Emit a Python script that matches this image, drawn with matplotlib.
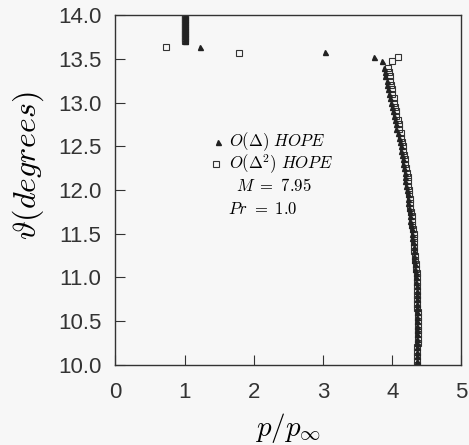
import matplotlib
matplotlib.use("Agg")
import matplotlib.pyplot as plt

# theta (degrees) along the main curve
theta = [13.40, 13.35, 13.30, 13.25, 13.20, 13.15, 13.10, 13.05, 13.00,
         12.95, 12.90, 12.85, 12.80, 12.75, 12.70, 12.65, 12.60, 12.55, 12.50,
         12.45, 12.40, 12.35, 12.30, 12.25, 12.20, 12.15, 12.10, 12.05, 12.00,
         11.95, 11.90, 11.85, 11.80, 11.75, 11.70, 11.65, 11.60, 11.55, 11.50,
         11.45, 11.40, 11.35, 11.30, 11.25, 11.20, 11.15, 11.10, 11.05, 11.00,
         10.95, 10.90, 10.85, 10.80, 10.75, 10.70, 10.65, 10.60, 10.55, 10.50,
         10.45, 10.40, 10.35, 10.30, 10.25, 10.20, 10.15, 10.10, 10.05, 10.00]

# O(Delta) HOPE pressure ratio
p_first = [3.88, 3.89, 3.90, 3.92, 3.93, 3.94, 3.95, 3.97, 3.98,
           3.99, 4.01, 4.02, 4.04, 4.05, 4.06, 4.08, 4.09, 4.11, 4.12,
           4.13, 4.14, 4.15, 4.16, 4.17, 4.18, 4.19, 4.19, 4.20, 4.21,
           4.22, 4.23, 4.23, 4.24, 4.25, 4.26, 4.26, 4.27, 4.28, 4.29,
           4.29, 4.30, 4.31, 4.31, 4.32, 4.32, 4.33, 4.33, 4.34, 4.34,
           4.34, 4.35, 4.35, 4.35, 4.35, 4.35, 4.35, 4.36, 4.36, 4.36,
           4.36, 4.36, 4.36, 4.36, 4.36, 4.36, 4.36, 4.36, 4.36, 4.36]

# O(Delta^2) HOPE pressure ratio
p_second = [3.94, 3.95, 3.96, 3.97, 3.98, 3.99, 4.00, 4.02, 4.03,
            4.04, 4.05, 4.06, 4.08, 4.09, 4.10, 4.12, 4.13, 4.14, 4.15,
            4.16, 4.17, 4.18, 4.19, 4.20, 4.21, 4.22, 4.22, 4.23, 4.24,
            4.24, 4.25, 4.25, 4.26, 4.27, 4.28, 4.28, 4.29, 4.30, 4.31,
            4.31, 4.31, 4.32, 4.32, 4.33, 4.33, 4.34, 4.34, 4.35, 4.35,
            4.35, 4.36, 4.36, 4.36, 4.36, 4.36, 4.36, 4.37, 4.37, 4.37,
            4.37, 4.37, 4.37, 4.37, 4.37, 4.36, 4.36, 4.36, 4.36, 4.36]

# stacked points near the shock at p/p_inf = 1
theta_stack = [13.70, 13.72, 13.74, 13.76, 13.78, 13.80, 13.82, 13.84,
               13.86, 13.88, 13.90, 13.92, 13.94, 13.96, 13.98, 14.00]
p_stack = [1.0] * len(theta_stack)

# scattered points in the transition region
p_first_extra = [1.22, 3.03, 3.73, 3.85]
theta_first_extra = [13.63, 13.58, 13.52, 13.47]
p_second_extra = [0.73, 1.78, 4.08, 3.99]
theta_second_extra = [13.63, 13.57, 13.52, 13.47]

plt.rcParams['mathtext.fontset'] = 'cm'

fig = plt.figure(figsize=(4.69, 4.45), dpi=100)
fig.patch.set_facecolor('#f7f7f7')
ax = fig.add_axes([0.246, 0.180, 0.738, 0.786])
ax.set_facecolor('#f7f7f7')

tri = dict(marker='^', color='#222222', markersize=3.6, linestyle='none')
sq = dict(marker='s', markerfacecolor='none', markeredgecolor='#333333',
          markersize=4.8, markeredgewidth=0.8, linestyle='none')

ax.plot(p_second, theta, **sq)
ax.plot(p_first, theta, **tri)
ax.plot(p_stack, theta_stack, **sq)
ax.plot(p_stack, theta_stack, **tri)
ax.plot(p_first_extra, theta_first_extra, **tri)
ax.plot(p_second_extra, theta_second_extra, **sq)

ax.set_xlim(0, 5)
ax.set_ylim(10, 14)
ax.set_xticks([0, 1, 2, 3, 4, 5])
ax.set_yticks([10.0, 10.5, 11.0, 11.5, 12.0, 12.5, 13.0, 13.5, 14.0])
ax.set_yticklabels(['10.0', '10.5', '11.0', '11.5', '12.0', '12.5',
                    '13.0', '13.5', '14.0'])
ax.tick_params(direction='in', length=7, width=0.8, labelsize=16,
               colors='#333333')
ax.tick_params(axis='x', pad=12)
ax.tick_params(axis='y', pad=10)
for lab in ax.get_xticklabels() + ax.get_yticklabels():
    lab.set_family('Liberation Sans')
for s in ax.spines.values():
    s.set_linewidth(1.0)
    s.set_color('#333333')

ax.set_xlabel(r'$p/p_\infty$', fontsize=21, labelpad=6)
ax.set_ylabel(r'$\vartheta(degrees)$', fontsize=23)
ax.yaxis.set_label_coords(-0.2, 0.57)

# key text
ax.plot([1.48], [12.55], **tri)
ax.plot([1.45], [12.30], **sq)
fs = 12
ax.text(1.64, 12.55, r'$O(\Delta)\ HOPE$', fontsize=fs, va='center')
ax.text(1.64, 12.30, r'$O(\Delta^2)\ HOPE$', fontsize=fs, va='center')
ax.text(1.74, 12.05, r'$M\ =\ 7.95$', fontsize=fs, va='center')
ax.text(1.62, 11.78, r'$Pr\ =\ 1.0$', fontsize=fs, va='center')

fig.savefig('out.png', dpi=100, facecolor=fig.get_facecolor())
